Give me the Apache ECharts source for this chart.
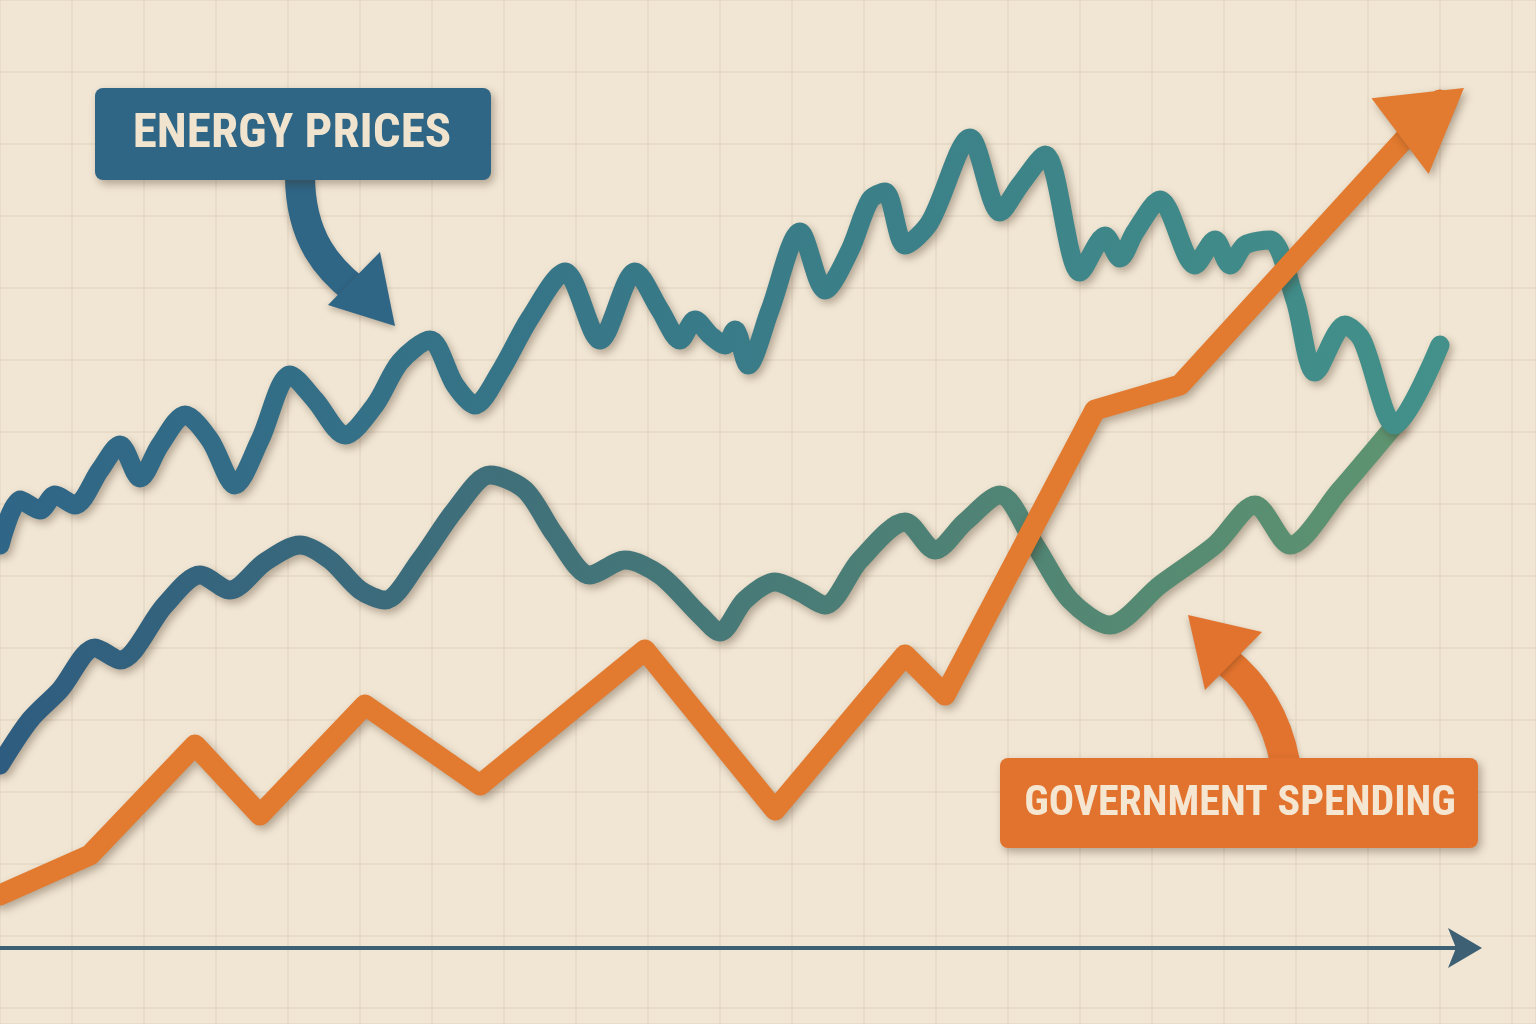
<!DOCTYPE html>
<html><head><meta charset="utf-8">
<script src="https://cdn.jsdelivr.net/npm/echarts@6/dist/echarts.min.js"></script>
<style>html,body{margin:0;padding:0;background:#f1e6d4}#c{width:1536px;height:1024px}</style>
</head><body><div id="c"></div>
<script>
const energyPrices = [[0,545],[20,500],[40,510],[55,495],[75,505],[100,470],[120,445],[140,478],[160,445],[185,415],[210,440],[235,485],[260,440],[290,375],[315,400],[345,435],[375,405],[400,362],[430,340],[455,385],[475,405],[500,372],[530,318],[565,272],[600,340],[635,272],[660,310],[680,340],[695,320],[710,335],[725,345],[735,330],[748,365],[770,310],[800,232],[825,290],[850,250],[870,200],[885,192],[905,245],[930,222],[970,138],[1000,212],[1020,185],[1045,155],[1080,272],[1105,236],[1120,258],[1135,232],[1160,200],[1195,265],[1215,240],[1230,265],[1245,245],[1270,240],[1295,300],[1315,372],[1345,325],[1362,340],[1395,425],[1440,345]];
const secondSeries = [[0,765],[30,720],[60,690],[95,648],[120,660],[165,605],[200,575],[230,590],[265,562],[300,545],[330,560],[360,590],[385,600],[420,560],[455,510],[490,475],[525,490],[555,535],[590,575],[625,560],[660,575],[700,615],[720,632],[745,600],[775,582],[800,592],[825,605],[860,560],[905,522],[935,550],[965,522],[1000,495],[1035,545],[1070,600],[1110,625],[1160,585],[1215,545],[1255,505],[1290,545],[1340,490],[1395,425]];
const governmentSpending = [[0,895],[90,855],[195,745],[260,815],[365,705],[480,785],[645,650],[775,810],[905,655],[945,695],[1095,410],[1180,385],[1440,100]];
const labels = ["ENERGY PRICES","GOVERNMENT SPENDING"];

const chart = echarts.init(document.getElementById('c'));
const sh = {shadowColor:'rgba(60,40,20,0.35)',shadowBlur:8,shadowOffsetX:3,shadowOffsetY:4};
const gsh = {shadowColor:'rgba(60,40,20,0.3)',shadowBlur:6,shadowOffsetY:3};
const grad=(a,b)=>new echarts.graphic.LinearGradient(0,0,1,0,[{offset:0,color:a},{offset:1,color:b}]);
const font = w=>'bold '+w+'px "Roboto Condensed", "Liberation Sans Narrow", "DejaVu Sans Condensed", sans-serif';
chart.setOption({
  backgroundColor:'#f1e6d4',
  grid:{left:0,right:0,top:0,bottom:0},
  xAxis:{type:'value',min:0,max:1536,interval:72,axisLine:{show:false},axisTick:{show:false},axisLabel:{show:false},splitLine:{lineStyle:{color:'#e4d7c4',width:1.5}}},
  yAxis:{type:'value',inverse:true,min:0,max:1024,interval:72,axisLine:{show:false},axisTick:{show:false},axisLabel:{show:false},splitLine:{lineStyle:{color:'#e4d7c4',width:1.5}}},
  series:[
    {type:'line',data:secondSeries,smooth:0.3,symbol:'none',lineStyle:Object.assign({width:19,cap:'round',join:'round',color:grad('#2e5c80','#5e9470')},sh)},
    {type:'line',data:energyPrices,smooth:0.3,symbol:'none',lineStyle:Object.assign({width:19,cap:'round',join:'round',color:grad('#2f6586','#43918a')},sh)},
    {type:'line',data:governmentSpending,smooth:false,symbol:'none',lineStyle:Object.assign({width:21,cap:'round',join:'round',color:'#e27a2f'},sh),
     markPoint:{symbol:'triangle',symbolSize:[95,80],symbolRotate:-53,data:[{coord:[1432,112]}],itemStyle:Object.assign({color:'#e27a2f'},sh),label:{show:false}}}
  ],
  graphic:[
    {type:'line',z:100,shape:{x1:0,y1:948,x2:1460,y2:948},style:{stroke:'#3d6075',lineWidth:4}},
    {type:'polygon',z:100,shape:{points:[[1448,928],[1482,948],[1448,968],[1456,948]]},style:{fill:'#3d6075'}},
    {type:'bezierCurve',z:100,shape:{x1:300,y1:175,cpx1:300,cpy1:240,cpx2:330,cpy2:270,x2:355,y2:290},style:Object.assign({stroke:'#2f6585',lineWidth:30,fill:null},gsh)},
    {type:'polygon',z:100,shape:{points:[[328,305],[380,252],[395,326]]},style:Object.assign({fill:'#2f6585'},gsh)},
    {type:'rect',z:101,shape:{x:95,y:88,width:396,height:92,r:8},style:Object.assign({fill:'#2f6585'},sh)},
    {type:'text',z:102,x:292,y:135,style:{text:labels[0],fill:'#f1e4cf',font:font(49),align:'center',verticalAlign:'middle'}},
    {type:'bezierCurve',z:100,shape:{x1:1285,y1:762,cpx1:1275,cpy1:710,cpx2:1250,cpy2:680,x2:1225,y2:660},style:Object.assign({stroke:'#e2732e',lineWidth:30,fill:null},gsh)},
    {type:'polygon',z:100,shape:{points:[[1188,615],[1262,632],[1205,690]]},style:Object.assign({fill:'#e2732e'},gsh)},
    {type:'rect',z:101,shape:{x:1000,y:758,width:478,height:90,r:8},style:Object.assign({fill:'#e2732e'},sh)},
    {type:'text',z:102,x:1240,y:804,style:{text:labels[1],fill:'#f5e6d2',font:font(42),align:'center',verticalAlign:'middle'}}
  ]
});
</script></body></html>
